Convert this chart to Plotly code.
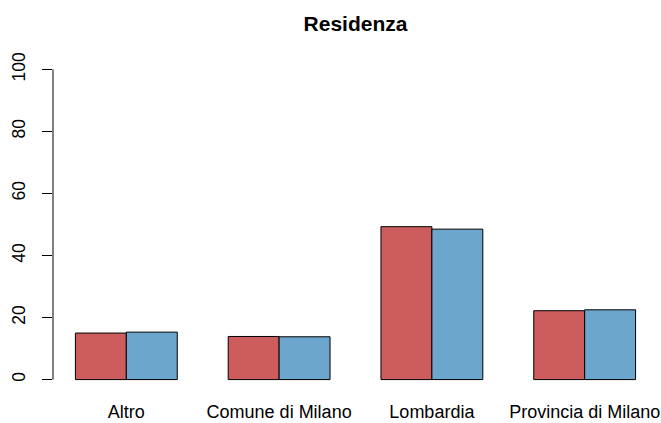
import plotly.graph_objects as go

# Residenza: percentuali per gruppo (due serie affiancate)
categorie = ["Altro", "Comune di Milano", "Lombardia", "Provincia di Milano"]
serie_1 = [15.0, 13.9, 49.3, 22.2]
serie_2 = [15.3, 13.8, 48.5, 22.5]
y_ticks = [0, 20, 40, 60, 80, 100]

ROSSO = "#CD5C5C"
BLU = "#6CA6CD"
FONT = "Liberation Sans, Arial, sans-serif"
Y_RANGE = [-4, 104]

fig = go.Figure()
fig.add_trace(go.Bar(x=categorie, y=serie_1, name="serie 1",
                     marker=dict(color=ROSSO, line=dict(color="black", width=1))))
fig.add_trace(go.Bar(x=categorie, y=serie_2, name="serie 2",
                     marker=dict(color=BLU, line=dict(color="black", width=1))))
# traccia invisibile: serve solo a far disegnare l'asse delle etichette
fig.add_trace(go.Scatter(x=categorie, y=serie_1, yaxis="y2", mode="markers",
                         marker=dict(opacity=0), showlegend=False))

# asse y come in R: linea solo da 0 a 100
fig.add_shape(type="line", xref="paper", yref="y", x0=0, x1=0, y0=0, y1=100,
              line=dict(color="black", width=1))

fig.update_layout(
    width=661, height=423,
    margin=dict(l=53, r=3, t=57, b=31),
    paper_bgcolor="white", plot_bgcolor="white",
    barmode="group", bargap=1/3, bargroupgap=0,
    showlegend=False,
    font=dict(family=FONT, size=17.5, color="black"),
    title=dict(text="<b>Residenza</b>", x=(53 + 658) / 2 / 661, xanchor="center",
               y=1 - 24 / 423, yanchor="middle", font=dict(size=21, family=FONT)),
    xaxis=dict(range=[-0.48, 3.48], showline=False, showgrid=False, zeroline=False,
               ticks="", ticklabelstandoff=7, tickfont=dict(size=18),
               automargin=False),
    # tacche corte senza etichette
    yaxis=dict(range=Y_RANGE, tickvals=y_ticks, showticklabels=False,
               showline=False, showgrid=False, zeroline=False, ticks="outside",
               ticklen=10, tickwidth=1, tickcolor="black", automargin=False),
    # etichette ruotate, un po' più lontane dall'asse (tacche invisibili)
    yaxis2=dict(range=Y_RANGE, overlaying="y", side="left", tickvals=y_ticks,
                tickangle=-90, showline=False, showgrid=False, zeroline=False,
                ticks="outside", ticklen=20, tickcolor="rgba(0,0,0,0)",
                automargin=False),
    hovermode=False,
)

# niente margine del body, così la figura parte dall'angolo della finestra
fig.write_html("out.html", config={"displayModeBar": False},
               post_script="document.body.style.margin='0';")
